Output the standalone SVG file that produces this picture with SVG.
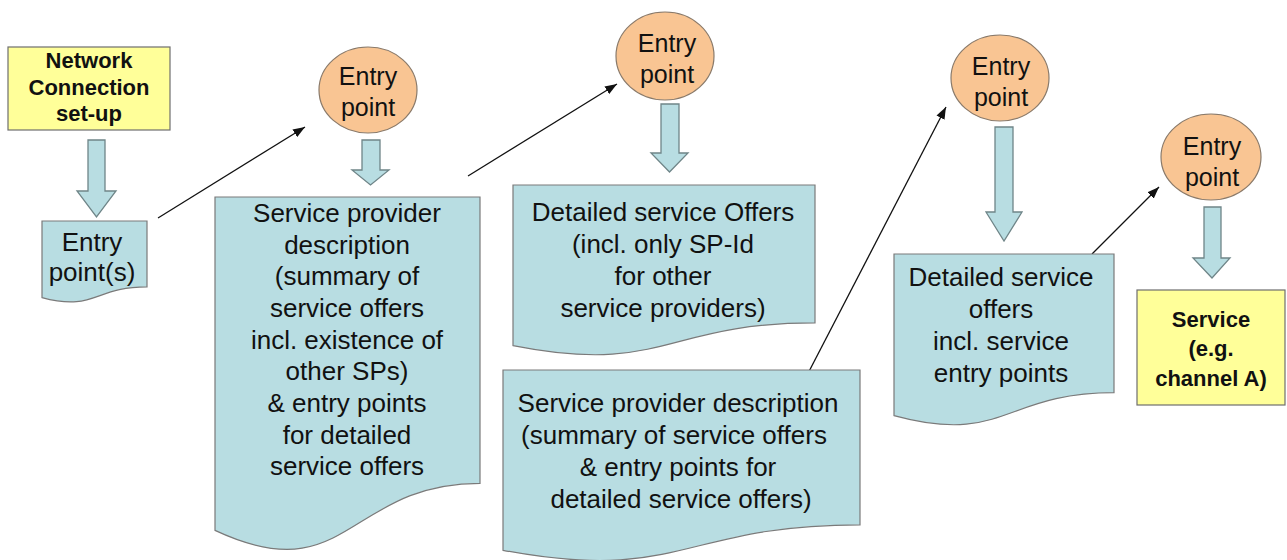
<svg xmlns="http://www.w3.org/2000/svg" width="1287" height="560" viewBox="0 0 1287 560">
<defs>
<style>
.doc{fill:#b8dde2;stroke:#7a7a7a;stroke-width:1.2}
.barrow{fill:#b8dde2;stroke:#6f8588;stroke-width:1.3}
.ell{fill:#f9c593;stroke:#8a7a6a;stroke-width:1.2}
.ybox{fill:#ffff99;stroke:#6e6e6e;stroke-width:1.2}
.t{font-family:"Liberation Sans",Arial,sans-serif;font-size:26px;fill:#111;text-anchor:middle}
.te{font-family:"Liberation Sans",Arial,sans-serif;font-size:25px;fill:#111;text-anchor:middle}
.tb{font-family:"Liberation Sans",Arial,sans-serif;font-size:22px;font-weight:bold;fill:#111;text-anchor:middle}
.conn{stroke:#111;stroke-width:1.3;fill:none;marker-end:url(#ah)}
</style>
<marker id="ah" markerUnits="userSpaceOnUse" markerWidth="12" markerHeight="9" refX="12" refY="4.5" orient="auto">
<path d="M0,0 L12,4.5 L0,9 z" fill="#111"/>
</marker>
</defs>
<rect width="1287" height="560" fill="#ffffff"/>

<g id="connectors">
<line class="conn" x1="158" y1="218" x2="305" y2="127"/>
<line class="conn" x1="468" y1="176" x2="617" y2="84"/>
<line class="conn" x1="803" y1="383" x2="946" y2="107"/>
<line class="conn" x1="1092" y1="254" x2="1159" y2="187"/>
<path class="barrow" d="M88,140 H105 V191 H116 L96.5,217 L77,191 H88 Z"/>
<path class="barrow" d="M362,140 H380 V170 H389 L370.5,185 L352,170 H362 Z"/>
<path class="barrow" d="M661,104 H679 V153 H688 L669.5,172 L651,153 H661 Z"/>
<path class="barrow" d="M995,127 H1013 V212 H1022 L1004,241 L986,212 H995 Z"/>
<path class="barrow" d="M1204,207 H1221 V258 H1230 L1212,278 L1193,258 H1204 Z"/>
</g>

<g id="network-setup">
<rect class="ybox" x="8" y="47" width="162" height="83"/>
<text class="tb" x="89" y="68">Network</text>
<text class="tb" x="89" y="95">Connection</text>
<text class="tb" x="89" y="121">set-up</text>
</g>

<g id="entry-points-doc">
<path class="doc" d="M42,221 H147 V286.8 C94.5,286.8 94.5,311.8 42,297.6 Z"/>
<text class="t" x="92" y="251">Entry</text>
<text class="t" x="92" y="281">point(s)</text>
</g>

<g id="entry-point-1">
<ellipse class="ell" cx="368" cy="90" rx="49" ry="43"/>
<text class="te" x="368" y="85">Entry</text>
<text class="te" x="368" y="116">point</text>
</g>

<g id="sp-description-1">
<path class="doc" d="M215,197 H480 V483.3 C347.5,483.3 347.5,592.4 215,530.4 Z"/>
<text class="t" x="347" y="222">Service provider</text>
<text class="t" x="347" y="254">description</text>
<text class="t" x="347" y="285">(summary of</text>
<text class="t" x="347" y="317">service offers</text>
<text class="t" x="347" y="349">incl. existence of</text>
<text class="t" x="347" y="380">other SPs)</text>
<text class="t" x="347" y="412">&amp; entry points</text>
<text class="t" x="347" y="444">for detailed</text>
<text class="t" x="347" y="475">service offers</text>
</g>

<g id="entry-point-2">
<ellipse class="ell" cx="665" cy="56" rx="49" ry="44"/>
<text class="te" x="667" y="52">Entry</text>
<text class="te" x="667" y="83">point</text>
</g>

<g id="detailed-offers-1">
<path class="doc" d="M513,185 H815 V322.9 C664,322.9 664,375.5 513,345.6 Z"/>
<text class="t" x="663" y="221">Detailed service Offers</text>
<text class="t" x="663" y="253">(incl. only SP-Id</text>
<text class="t" x="663" y="285">for other</text>
<text class="t" x="663" y="317">service providers)</text>
</g>

<g id="sp-description-2">
<path class="doc" d="M503,370 H860 V524.8 C681.5,524.8 681.5,583.7 503,550.3 Z"/>
<text class="t" x="678" y="412">Service provider description</text>
<text class="t" x="674" y="444">(summary of service offers</text>
<text class="t" x="678" y="476">&amp; entry points for</text>
<text class="t" x="681" y="508">detailed service offers)</text>
</g>

<g id="entry-point-3">
<ellipse class="ell" cx="1000" cy="78" rx="49" ry="43"/>
<text class="te" x="1001" y="75">Entry</text>
<text class="te" x="1001" y="106">point</text>
</g>

<g id="detailed-offers-2">
<path class="doc" d="M894,254 H1114 V392.7 C1004,392.7 1004,445.6 894,415.6 Z"/>
<text class="t" x="1001" y="286">Detailed service</text>
<text class="t" x="1001" y="318">offers</text>
<text class="t" x="1001" y="350">incl. service</text>
<text class="t" x="1001" y="382">entry points</text>
</g>

<g id="entry-point-4">
<ellipse class="ell" cx="1211" cy="157" rx="50" ry="43"/>
<text class="te" x="1212" y="155">Entry</text>
<text class="te" x="1212" y="186">point</text>
</g>

<g id="service">
<rect class="ybox" x="1137" y="290" width="148" height="115"/>
<text class="tb" x="1211" y="327">Service</text>
<text class="tb" x="1211" y="356">(e.g.</text>
<text class="tb" x="1211" y="386">channel A)</text>
</g>
</svg>
